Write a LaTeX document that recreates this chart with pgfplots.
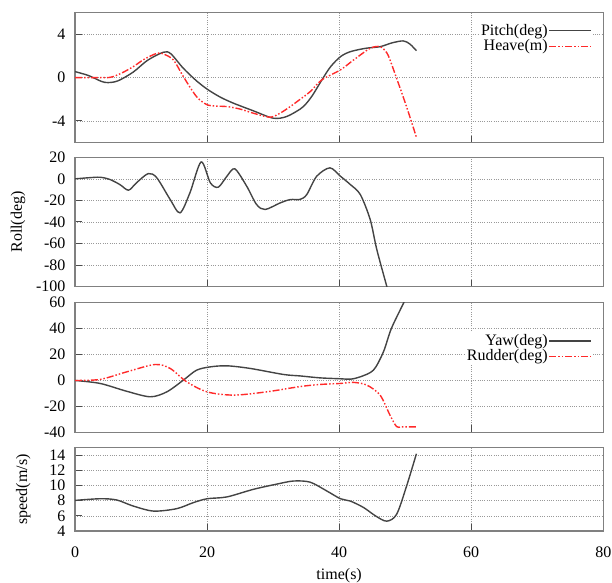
\documentclass[border=0pt]{standalone}
\usepackage{pgfplots}
\pgfplotsset{compat=1.18}
\usepackage{fontspec}
\setmainfont{Liberation Serif}
\definecolor{blkc}{HTML}{444444}
\definecolor{redc}{HTML}{FF2A2A}
\begin{document}
\fontsize{16bp}{19bp}\selectfont
\begin{tikzpicture}
\path[use as bounding box] (0,0) rectangle (612bp,583bp);
\pgfplotsset{
  panel/.style={scale only axis, width=528.3bp, anchor=south west,
    xmin=0, xmax=80, xtick={0,20,40,60,80},
    grid=major, grid style={gray!80, line width=0.7bp, dash pattern=on 1bp off 1.3bp},
    axis line style={gray, line width=1.2bp},
    tick align=inside, xtick pos=bottom, ytick pos=left,
    major tick length=7bp, tick style={black!70, line width=1bp},
    /pgf/number format/assume math mode=true,
    yticklabel style={xshift=-4bp},
    legend plot pos=right, legend cell align=right,
    legend image code/.code={\draw[##1] (0bp,0bp) -- (42bp,0bp);},
  },
  blk/.style={blkc, line width=1.4bp, smooth},
  rdd/.style={redc, line width=1.4bp, smooth, dash pattern=on 7bp off 2bp on 1.5bp off 2bp on 1.5bp off 2bp},
}
% Panel 1
\begin{axis}[panel, at={(75bp,440.3bp)}, height=130.2bp, ymin=-6, ymax=6, ytick={-4,0,4}, xticklabels={},
  legend style={draw=none, fill=white, at={(rel axis cs:1,1)}, anchor=north east, xshift=-10bp, yshift=-9.3bp, inner xsep=1bp, inner ysep=1bp, nodes={inner sep=1bp}}]
\addplot[blk] coordinates {(0,0.55) (2,0.2) (4,-0.35) (5,-0.46) (6.5,-0.3) (8.8,0.5) (11,1.6) (13.4,2.34) (14.5,2.2) (16.4,0.86) (18.4,-0.3) (20.1,-1.1) (22,-1.8) (24,-2.36) (27,-3.06) (30,-3.74) (32,-3.6) (34.1,-2.9) (35,-2.4) (36,-1.6) (37.4,-0.2) (38.7,1.0) (40.2,1.93) (41.7,2.39) (44,2.7) (46.2,2.85) (48,3.2) (49.7,3.38) (50.7,3.1) (51.7,2.48)};
\addlegendentry{Pitch(deg)}
\addplot[rdd] coordinates {(0,0) (3,0) (5.3,0.02) (7,0.4) (8.8,1.0) (10.5,1.7) (12.4,2.24) (13.3,2.2) (14.9,1.63) (16.4,0.1) (18.4,-1.75) (20,-2.5) (21.5,-2.63) (23,-2.67) (25,-2.9) (27,-3.28) (29.5,-3.65) (31,-3.3) (32.6,-2.67) (34.1,-2.0) (35.6,-1.3) (37.4,-0.2) (40.2,0.71) (42.2,1.63) (44.7,2.7) (46.2,2.85) (47.2,2.3) (47.7,1.63) (48.7,-0.06) (50.2,-2.67) (51.7,-5.5)};
\addlegendentry{Heave(m)}
\end{axis}
% Panel 2
\begin{axis}[panel, at={(75bp,296.3bp)}, height=129.4bp, ymin=-100, ymax=20, ytick={-100,-80,...,20}, xticklabels={},
  ylabel={Roll(deg)}, ylabel style={at={(axis description cs:-0.108,0.5)}, anchor=center}]
\addplot[blk] coordinates {(0,0) (2,1) (3.8,1.5) (5.3,-0.6) (6.8,-5.3) (8.1,-10.5) (9.3,-3.7) (11.1,4.9) (12.4,0.9) (14.4,-19) (15.9,-31.5) (17.4,-13) (19.1,15.7) (20.5,-3.7) (21.7,-7.7) (23,2.4) (24.2,9.3) (26,-6.8) (27.5,-23.8) (28.8,-28.4) (31.1,-22.2) (32.6,-19.2) (34.1,-19) (35.1,-14.5) (36.6,2.4) (38.6,10.2) (40.2,2.4) (41.7,-5.3) (43.2,-14.5) (44.7,-37.7) (45.7,-65.5) (47.2,-99.4) (47.5,-106)};
\end{axis}
% Panel 3
\begin{axis}[panel, at={(75bp,150.7bp)}, height=129.6bp, ymin=-40, ymax=60, ytick={-40,-20,...,60}, xticklabels={},
  legend style={draw=none, fill=white, at={(rel axis cs:1,1)}, anchor=north east, xshift=-10bp, yshift=-29.3bp, inner xsep=1bp, inner ysep=1bp, nodes={inner sep=1bp}}]
\addplot[blk] coordinates {(0,0) (3.8,-2.3) (7.8,-8.3) (11.4,-12.6) (13.9,-8.8) (16.4,0.2) (18.4,7.9) (20.5,10.5) (23,11.3) (26.5,9.3) (31.6,4.6) (34.1,3.5) (37.1,2) (40.2,1.3) (41.7,1) (43.2,2.8) (45.2,8) (46.7,22) (47.9,40) (49.8,60.2) (50.3,66)};
\addlegendentry{Yaw(deg)}
\addplot[rdd] coordinates {(0,0) (3.8,0.8) (7.8,6.6) (12.1,12.3) (14.4,9.3) (16.9,-1.0) (20,-8.8) (24,-11.3) (29,-8.8) (34.1,-4.7) (37.1,-3.1) (40.2,-2.3) (42.2,-1.5) (44.2,-3.6) (46.2,-11.3) (47.7,-26.8) (48.7,-35.6) (49.5,-35.8) (51.8,-35.8)};
\addlegendentry{Rudder(deg)}
\end{axis}
% Panel 4
\begin{axis}[panel, at={(75bp,52bp)}, height=83.3bp, ymin=4, ymax=15, ytick={4,6,...,14},
  xticklabel style={yshift=-10bp},
  ylabel={speed(m/s)}, ylabel style={at={(axis description cs:-0.098,0.5)}, anchor=center},
  xlabel={time(s)}, xlabel style={at={(axis description cs:0.5,0)}, anchor=center, yshift=-44.7bp}]
\addplot[blk] coordinates {(0,8.04) (3.8,8.26) (6.3,8.1) (8.8,7.3) (11.9,6.63) (15.4,6.95) (17.9,7.74) (20,8.26) (23,8.5) (27,9.5) (30.6,10.2) (33.1,10.6) (35.6,10.45) (38.1,9.3) (40.2,8.26) (41.7,7.95) (43.7,7.1) (45.5,6.0) (47.2,5.3) (48.7,6.2) (50.2,9.9) (51.7,14.2)};
\end{axis}
\end{tikzpicture}
\end{document}
